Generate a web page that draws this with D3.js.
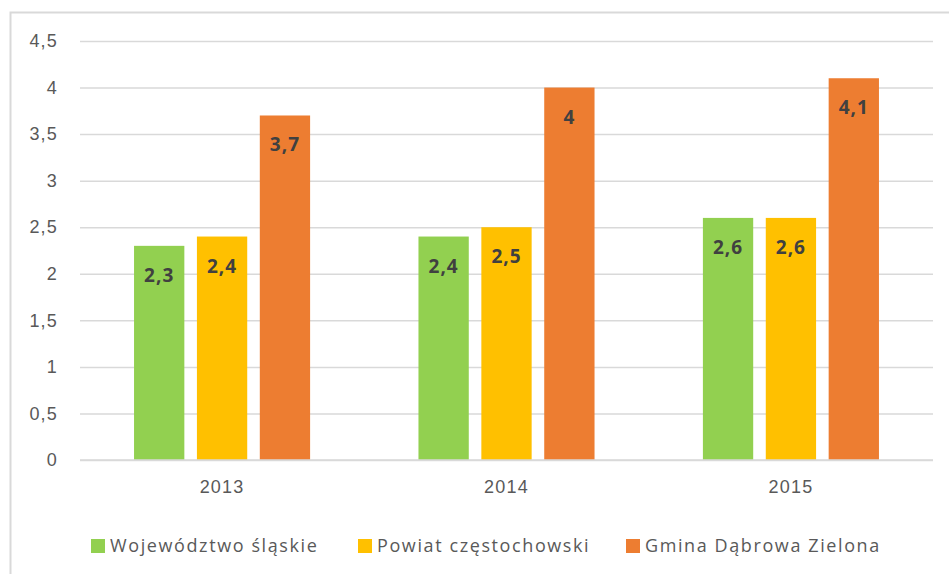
<!DOCTYPE html>
<html>
<head>
<meta charset="utf-8">
<script src="https://cdn.jsdelivr.net/npm/d3@7"></script>
<style>
	body { margin: 0; background: #fff; }
	svg { display: block; font-family: "Open Sans", Lato, sans-serif; }
	.tickLabel { fill: #595959; font-size: 18px; letter-spacing: 1.2px; }
	.valueLabel { fill: #404040; font-size: 19px; font-weight: bold; letter-spacing: 1px; }
	.legendText { fill: #595959; font-size: 18px; letter-spacing: 1.6px; }
</style>
</head>
<body>
<div id="chart"></div>
<script>
// data
var years = ["2013", "2014", "2015"];
var seriesNames = ["Województwo śląskie", "Powiat częstochowski", "Gmina Dąbrowa Zielona"];
var slaskie = [2.3, 2.4, 2.6];
var czestochowski = [2.4, 2.5, 2.6];
var dabrowa = [3.7, 4.0, 4.1];
var yTicks = [0, 0.5, 1, 1.5, 2, 2.5, 3, 3.5, 4, 4.5];
var colors = ["#92d050", "#ffc000", "#ed7d31"];

var seriesValues = [slaskie, czestochowski, dabrowa];

var width = 949, height = 574;
var margin = { top: 41, right: 16, bottom: 114, left: 80 };

var svg = d3.select("#chart")
	.append("svg")
		.attr("width", width)
		.attr("height", height);

// outer frame (right/bottom edge fall outside the picture)
svg.append("rect")
	.attr("x", 10.5)
	.attr("y", 12.5)
	.attr("width", 960)
	.attr("height", 600)
	.style("fill", "none")
	.style("stroke", "#d9d9d9")
	.style("stroke-width", 2);

var y = d3.scaleLinear()
	.domain([0, 4.5])
	.range([height - margin.bottom, margin.top]);

var x0 = d3.scaleBand()
	.domain(years)
	.range([margin.left, width - margin.right])
	.paddingInner(0.381)
	.paddingOuter(0.19);

var x1 = d3.scaleBand()
	.domain(d3.range(seriesNames.length))
	.range([0, x0.bandwidth()])
	.paddingInner(0.2);

function fmt(d) { return String(d).replace(".", ","); }

// gridlines + labels
var yAxis = d3.axisLeft(y)
	.tickValues(yTicks)
	.tickSize(-(width - margin.right - margin.left))
	.tickPadding(22)
	.tickFormat(fmt);

var gy = svg.append("g")
	.attr("transform", "translate(" + margin.left + ",0)")
	.call(yAxis);
gy.select(".domain").remove();
gy.selectAll("line").style("stroke", "#d9d9d9").style("stroke-width", 1.5);
gy.selectAll("text").attr("class", "tickLabel").attr("font-family", null).attr("font-size", null).attr("fill", null);

// year labels
svg.append("g")
	.attr("transform", "translate(0," + (height - margin.bottom) + ")")
	.call(d3.axisBottom(x0).tickSize(0).tickPadding(20))
	.call(function(g) {
		g.select(".domain").remove();
		g.selectAll("text").attr("class", "tickLabel").attr("font-family", null).attr("font-size", null).attr("fill", null);
	});

// bars
var groups = svg.selectAll(".yearGroup")
	.data(years)
	.enter().append("g")
		.attr("class", "yearGroup")
		.attr("transform", function(d) { return "translate(" + x0(d) + ",0)"; });

var cells = groups.selectAll(".bar")
	.data(function(d, i) {
		return seriesValues.map(function(vals, s) { return { s: s, v: vals[i] }; });
	})
	.enter();

cells.append("rect")
	.attr("class", "bar")
	.attr("x", function(d) { return x1(d.s); })
	.attr("y", function(d) { return y(d.v); })
	.attr("width", x1.bandwidth())
	.attr("height", function(d) { return y(0) - y(d.v); })
	.style("fill", function(d) { return colors[d.s]; });

cells.append("text")
	.attr("class", "valueLabel")
	.attr("x", function(d) { return x1(d.s) + x1.bandwidth() / 2; })
	.attr("y", function(d) { return y(d.v) + 36; })
	.style("text-anchor", "middle")
	.text(function(d) { return fmt(d.v); });

// baseline
svg.append("line")
	.attr("x1", margin.left)
	.attr("x2", width - margin.right)
	.attr("y1", y(0))
	.attr("y2", y(0))
	.style("stroke", "#d9d9d9")
	.style("stroke-width", 1.5);

// legend
var legendX = [91, 358, 626];
var legend = svg.selectAll(".legendItem")
	.data(seriesNames)
	.enter().append("g")
		.attr("class", "legendItem")
		.attr("transform", function(d, i) { return "translate(" + legendX[i] + ",546)"; });

legend.append("rect")
	.attr("x", 0)
	.attr("y", -7)
	.attr("width", 14)
	.attr("height", 14)
	.style("fill", function(d, i) { return colors[i]; });

legend.append("text")
	.attr("class", "legendText")
	.attr("x", 19)
	.attr("y", 6)
	.text(function(d) { return d; });
</script>
</body>
</html>
